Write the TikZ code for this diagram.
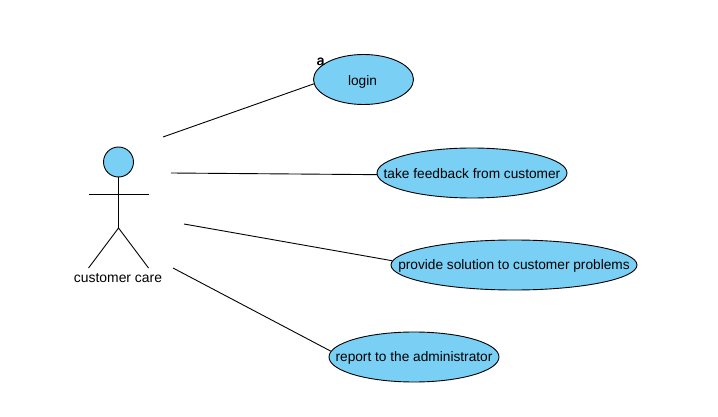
\documentclass[tikz,border=0pt]{standalone}
\usepackage{fontspec}
\setmainfont{Liberation Sans}
\usetikzlibrary{shapes.geometric}
\definecolor{ucfill}{RGB}{122,207,245}
\tikzset{
  usecase/.style={ellipse,draw=black,fill=ucfill,line width=0.9pt,inner sep=0pt,minimum height=50pt},
  lbl/.style={inner sep=0pt,font=\fontsize{13.7}{16}\selectfont},
  uclabel/.style={label={[lbl,yshift=-0.5pt]center:#1}},
  link/.style={draw=black,line width=0.9pt}
}
\begin{document}
\begin{tikzpicture}[x=1pt,y=-1pt]
\useasboundingbox[fill=white] (0,0) rectangle (718,417);
% actor
\node[circle,draw=black,fill=ucfill,line width=0.9pt,minimum size=30pt,inner sep=0pt] (head) at (118.5,162) {};
\coordinate (hip) at (118.5,228);
\coordinate (armL) at (89,194);
\coordinate (armR) at (149,194);
\coordinate (footL) at (88.5,268);
\coordinate (footR) at (148.5,268);
\draw[link] (head.south) -- (hip);
\draw[link] (armL) -- (armR);
\draw[link] (footL) -- (hip) -- (footR);
\node[lbl,font=\fontsize{13.9}{16}\selectfont] (actor) at (118,278.5) {customer care};
% use cases
\node[usecase,minimum width=100pt,label={[lbl,yshift=-2pt,xshift=-1pt]center:login}] (login) at (363.5,79.5) {};
\node[usecase,minimum width=190pt,uclabel={take feedback from customer}] (feedback) at (472,173) {};
\node[usecase,minimum width=246pt,uclabel={provide solution to customer problems}] (solution) at (514,265) {};
\node[usecase,minimum width=170pt,label={[lbl,yshift=-1pt]center:report to the administrator}] (report) at (414,357) {};
\node[lbl] (tag) at (320.5,61.5) {a};
\node[lbl] (tagb) at (320.9,61.5) {a};
% connector ends near actor
\coordinate (s1) at (163,137);
\coordinate (s2) at (171,173);
\coordinate (s3) at (184,224);
\coordinate (s4) at (173,268);
\draw[link] (s1) -- (login.185);
\draw[link] (s2) -- (feedback.181);
\draw[link] (s3) -- (solution.178.6);
\draw[link] (s4) -- (report.176.6);
\end{tikzpicture}
\end{document}
